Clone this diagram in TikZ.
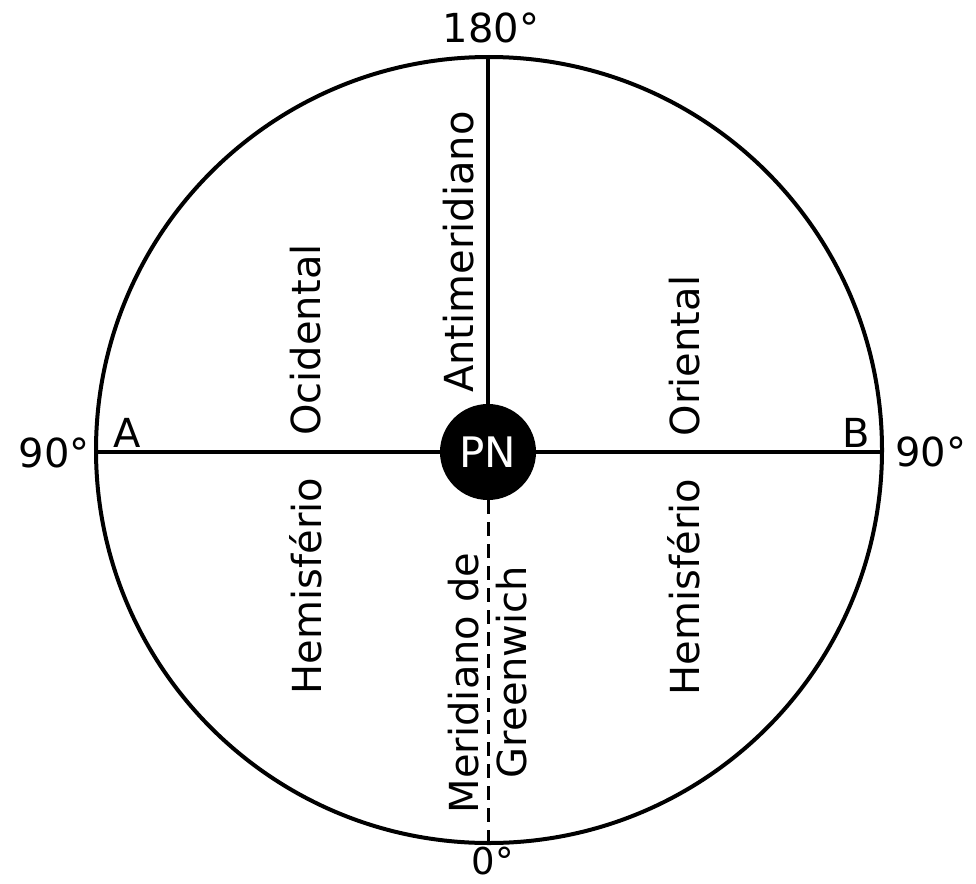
\documentclass[tikz,border=0pt]{standalone}
\usepackage{fontspec}
\setmainfont{DejaVu Sans}
\begin{document}
\begin{tikzpicture}[x=1pt,y=-1pt,
  lbl/.style={font=\fontsize{40}{48}\selectfont, inner sep=0pt},
  vlbl/.style={lbl, rotate=90, anchor=base},
  axis/.style={line width=3.2pt}]
\useasboundingbox (0,0) rectangle (976,883);
\fill[white] (0,0) rectangle (976,883);
\node[circle, draw, line width=4pt, minimum size=786pt, inner sep=0pt] (globe) at (489,450) {};
\node[circle, fill=black, minimum size=96pt, inner sep=0pt, text=white,
      font=\fontsize{42}{48}\selectfont] (pn) at (488,452) {PN};
\draw[axis] (globe.west |- pn.west) -- (pn.west);
\draw[axis] (pn.east) -- (globe.east |- pn.east);
\draw[axis] (pn.north) -- (pn.north |- globe.north);
\draw[line width=3pt, dash pattern=on 14pt off 8pt] (pn.south) -- (pn.south |- globe.south);
\node[lbl, anchor=base] (t180) at (491,43) {180°};
\node[lbl, anchor=base, font=\fontsize{37}{44}\selectfont] (t0) at (493,874) {0°};
\node[lbl, anchor=base east] (t90l) at (90,467) {90°};
\node[lbl, anchor=base west] (t90r) at (895,466) {90°};
\node[lbl, anchor=base west] (ta) at (113,447) {A};
\node[lbl, anchor=base east] (tb) at (870,447) {B};
\node[vlbl] (anti) at (473,252) {Antimeridiano};
\node[vlbl] (ocid) at (320,340) {Ocidental};
\node[vlbl] (hemil) at (321,586) {Hemisfério};
\node[vlbl] (orie) at (699,356) {Oriental};
\node[vlbl] (hemir) at (699,587) {Hemisfério};
\node[vlbl] (meri) at (478,683) {Meridiano de};
\node[vlbl] (gree) at (526,672) {Greenwich};
\end{tikzpicture}
\end{document}
